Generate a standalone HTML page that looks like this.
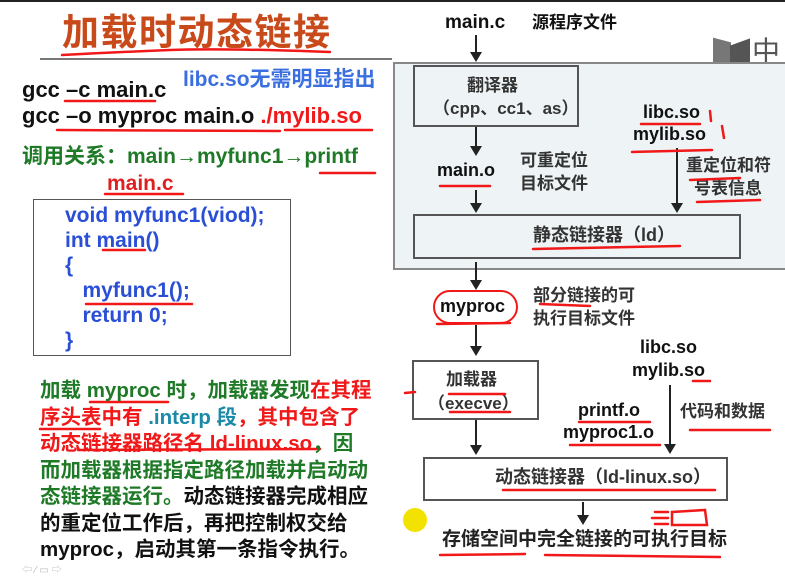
<!DOCTYPE html>
<html><head><meta charset="utf-8"><style>
*{margin:0;padding:0;box-sizing:border-box}
body{width:785px;height:581px;background:#fff;position:relative;overflow:hidden;font-family:"Liberation Sans","Noto Sans CJK SC",sans-serif;font-weight:bold}
.t{position:absolute;white-space:nowrap;line-height:1}
.box{position:absolute;border:2px solid #555;}
.ar{position:absolute;width:2px;background:#222}
.ah{position:absolute;width:0;height:0;border-left:6px solid transparent;border-right:6px solid transparent;border-top:10px solid #222}
.g{color:#1e7a26}.r{color:#f01818}.b{color:#2a4fd6}.k{color:#111}.c{color:#1a8aa8}
</style></head><body>
<div style="position:absolute;left:0;top:0;width:785px;height:2px;background:#222"></div>
<div class="t" style="left:62px;top:14px;font-size:37px;color:#c84a1a;letter-spacing:1.5px">加载时动态链接</div>
<div style="position:absolute;left:40px;top:58px;width:352px;height:2px;background:#777"></div>
<div style="position:absolute;left:713px;top:40px;width:18px;height:30px;background:#777;transform:skewY(15deg)"></div>
<div style="position:absolute;left:730px;top:42px;width:20px;height:28px;background:#555;transform:skewY(-20deg)"></div>
<div class="t" style="left:752px;top:38px;font-size:28px;color:#555;font-weight:normal">中</div>
<div style="position:absolute;left:393px;top:62px;width:392px;height:208px;background:#eef4f6;border:2px solid #888;border-right:none"></div>
<div class="t k" style="left:445px;top:13px;font-size:19px">main.c</div>
<div class="t k" style="left:532px;top:14px;font-size:17px">源程序文件</div>
<div class="ar" style="left:475px;top:35px;height:18px"></div><div class="ah" style="left:470px;top:52px"></div>
<div class="box" style="left:413px;top:65px;width:166px;height:62px;background:#eef4f6"></div>
<div class="t" style="left:467px;top:77px;font-size:17px;color:#333">翻译器</div>
<div class="t" style="left:433px;top:100px;font-size:17px;color:#333">（cpp、cc1、as）</div>
<div class="ar" style="left:475px;top:127px;height:20px"></div><div class="ah" style="left:470px;top:146px"></div>
<div class="t k" style="left:437px;top:161px;font-size:18px">main.o</div>
<div class="t" style="left:520px;top:152px;font-size:17px;color:#333">可重定位</div>
<div class="t" style="left:520px;top:175px;font-size:17px;color:#333">目标文件</div>
<div class="ar" style="left:475px;top:190px;height:14px"></div><div class="ah" style="left:470px;top:203px"></div>
<div class="t k" style="left:643px;top:103px;font-size:18px">libc.so</div>
<div class="t k" style="left:633px;top:125px;font-size:18px">mylib.so</div>
<div class="t" style="left:686px;top:157px;font-size:17px;color:#333">重定位和符</div>
<div class="t" style="left:694px;top:180px;font-size:17px;color:#333">号表信息</div>
<div class="ar" style="left:676px;top:148px;height:56px"></div><div class="ah" style="left:671px;top:203px"></div>
<div class="box" style="left:413px;top:214px;width:328px;height:45px;background:#eef4f6"></div>
<div class="t" style="left:533px;top:226px;font-size:18px;color:#333">静态链接器（ld）</div>
<div class="ar" style="left:475px;top:262px;height:20px"></div><div class="ah" style="left:470px;top:280px"></div>
<div class="t k" style="left:440px;top:297px;font-size:18px">myproc</div>
<div style="position:absolute;left:433px;top:290px;width:85px;height:34px;border:2px solid #f01818;border-radius:18px"></div>
<div class="t" style="left:533px;top:287px;font-size:17px;color:#333">部分链接的可</div>
<div class="t" style="left:533px;top:310px;font-size:17px;color:#333">执行目标文件</div>
<div class="ar" style="left:475px;top:325px;height:22px"></div><div class="ah" style="left:470px;top:346px"></div>
<div class="box" style="left:412px;top:360px;width:127px;height:60px"></div>
<div class="t" style="left:446px;top:371px;font-size:17px;color:#333">加载器</div>
<div class="t" style="left:428px;top:395px;font-size:17px;color:#333">（execve）</div>
<div class="ar" style="left:475px;top:420px;height:26px"></div><div class="ah" style="left:470px;top:445px"></div>
<div class="t k" style="left:640px;top:338px;font-size:18px">libc.so</div>
<div class="t k" style="left:632px;top:361px;font-size:18px">mylib.so</div>
<div class="ar" style="left:669px;top:385px;height:60px"></div><div class="ah" style="left:664px;top:444px"></div>
<div class="t k" style="left:578px;top:401px;font-size:18px">printf.o</div>
<div class="t k" style="left:563px;top:423px;font-size:18px">myproc1.o</div>
<div class="t" style="left:680px;top:403px;font-size:17px;color:#333">代码和数据</div>
<div class="box" style="left:423px;top:457px;width:305px;height:44px"></div>
<div class="t" style="left:495px;top:468px;font-size:18px;color:#333">动态链接器（ld-linux.so）</div>
<div class="ar" style="left:582px;top:502px;height:14px"></div><div class="ah" style="left:577px;top:515px"></div>
<div class="t" style="left:442px;top:530px;font-size:19px;color:#222">存储空间中完全链接的可执行目标</div>
<div style="position:absolute;left:403px;top:508px;width:24px;height:24px;border-radius:50%;background:#f3e200"></div>
<svg style="position:absolute;left:0;top:0" width="785" height="581">
<g stroke="#f01818" stroke-width="2.5" fill="none" stroke-linecap="round">
<path d="M62 55 Q120 52 170 50 T330 52"/>
<path d="M65 101 L155 101"/><path d="M57 130 L280 131"/><path d="M285 130 L372 130"/>
<path d="M320 173 L375 173"/><path d="M105 194 L183 194"/>
<path d="M103 250 L145 250"/><path d="M86 304 L192 304"/>
<path d="M90 402 L168 402"/><path d="M40 429 L100 429"/><path d="M78 450 L320 449"/>
<path d="M440 186 L490 186"/><path d="M641 124 L700 124"/><path d="M632 152 L712 150"/><path d="M710 111 L711 121"/><path d="M722 126 L724 138"/>
<path d="M690 180 L740 178"/><path d="M697 202 L760 200"/><path d="M533 249 L680 246"/>
<path d="M437 324 L510 323"/><path d="M540 304 L590 306"/>
<path d="M449 394 L505 394"/><path d="M450 412 L510 412"/><path d="M405 393 L415 392"/>
<path d="M693 381 L710 381"/><path d="M579 422 L650 422"/><path d="M570 445 L660 445"/><path d="M690 430 L770 430"/>
<path d="M503 490 L715 490"/>
<path d="M655 512 L668 512 M652 518 L668 518 M655 524 L668 524 M672 512 L705 510 L707 525 L672 525 Z"/>
<path d="M440 555 L525 554"/><path d="M545 555 L720 557"/>
</g></svg>
<div class="t k" style="left:22px;top:79px;font-size:22px">gcc –c main.c</div>
<div class="t k" style="left:22px;top:105px;font-size:22px">gcc –o myproc main.o <span class="r">./mylib.so</span></div>
<div class="t" style="left:183px;top:69px;font-size:21px;color:#3b6fe0">libc.so无需明显指出</div>
<div class="t g" style="left:22px;top:146px;font-size:21px">调用关系：main→myfunc1→printf</div>
<div class="t" style="left:107px;top:173px;font-size:21px;color:#e02020">main.c</div>
<div class="box" style="left:33px;top:199px;width:258px;height:157px;border:1px solid #555"></div>
<div class="t b" style="left:65px;top:203px;font-size:21px;line-height:25px">void myfunc1(viod);<br>int main()<br>{<br>&nbsp;&nbsp;&nbsp;myfunc1();<br>&nbsp;&nbsp;&nbsp;return 0;<br>}</div>
<div class="t" style="left:40px;top:378px;font-size:20.5px;line-height:26.5px">
<span class="g">加载 myproc 时，加载器发现</span><span class="r">在其程</span><br>
<span class="r">序头表中有 </span><span class="c">.interp 段</span><span class="r">，其中包含了</span><br>
<span class="r">动态链接器路径名 ld-linux.so</span><span class="g">，因</span><br>
<span class="g">而加载器根据指定路径加载并启动动</span><br>
<span class="g">态链接器运行。</span><span class="k">动态链接器完成相应</span><br>
<span class="k">的重定位工作后，再把控制权交给</span><br>
<span class="k">myproc，启动其第一条指令执行。</span></div>
<div class="t" style="left:22px;top:566px;font-size:10px;color:#bbb;font-weight:normal">⇦ ⁄ ▭ ⇨</div>
</body></html>
